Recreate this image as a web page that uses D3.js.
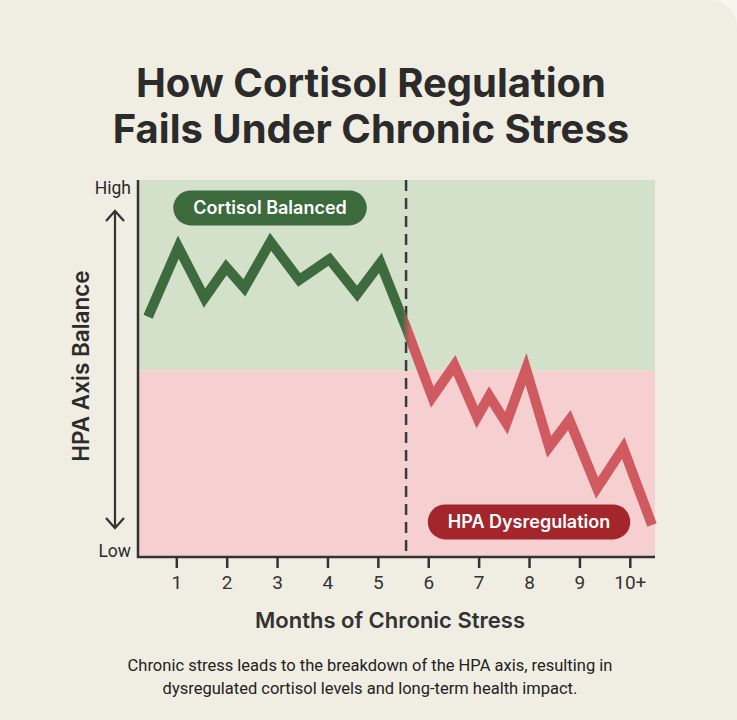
<!DOCTYPE html>
<html>
<head>
<meta charset="utf-8">
<script src="https://cdn.jsdelivr.net/npm/d3@7"></script>
<style>
  html, body { margin: 0; padding: 0; background: #f6f5ef; }
  svg { display: block; }
</style>
</head>
<body>
<div id="chart"></div>
<script>
// data
var months  = [0.44, 1.04, 1.56, 1.99, 2.35, 2.87, 3.44, 4.04, 4.59, 5.05, 5.56,
               6.08, 6.52, 6.97, 7.21, 7.55, 7.94, 8.40, 8.80, 9.35, 9.87, 10.44];
var balance = [63.7, 82.2, 68.7, 76.9, 71.4, 83.6, 73.5, 79.0, 69.8, 78.0, 60.9,
               42.4, 50.9, 37.1, 42.7, 35.5, 49.9, 29.2, 36.3, 18.3, 28.9, 8.5];
var tickValues = [1, 2, 3, 4, 5, 6, 7, 8, 9, 10];
var tickLabels = ["1", "2", "3", "4", "5", "6", "7", "8", "9", "10+"];
var zoneSplit = 49.5;     // green above, pink below
var onsetMonth = 5.56;    // dashed line where dysregulation starts
var titleLines = ["How Cortisol Regulation", "Fails Under Chronic Stress"];
var captionLines = ["Chronic stress leads to the breakdown of the HPA axis, resulting in",
                    "dysregulated cortisol levels and long-term health impact."];
var zoneLabels = [
  {text: "Cortisol Balanced", month: 2.86, value: 92.6, fill: "#3c6a3d"},
  {text: "HPA Dysregulation", month: 8.0, value: 9.3, fill: "#a2262b"}
];

var W = 737, H = 720;
var margin = {top: 180, right: 82, bottom: 163, left: 138};

var svg = d3.select("#chart").append("svg")
    .attr("width", W)
    .attr("height", H);

// card background
svg.append("rect")
    .attr("x", -40).attr("y", 0)
    .attr("width", W + 40).attr("height", H + 40)
    .attr("rx", 28)
    .attr("fill", "#f0ede3");

var x = d3.scaleLinear()
    .domain([0.24, 10.5])
    .range([margin.left, W - margin.right]);

var y = d3.scaleLinear()
    .domain([0, 100])
    .range([H - margin.bottom, margin.top]);

// title
svg.append("text")
    .attr("text-anchor", "middle")
    .attr("font-family", "Inter, sans-serif")
    .attr("font-weight", 700)
    .attr("font-size", 40)
    .attr("fill", "#2b2b2b")
  .selectAll("tspan")
  .data(titleLines)
  .enter().append("tspan")
    .attr("x", 371)
    .attr("y", function(d, i) { return 97 + i * 46; })
    .text(function(d) { return d; });

// zones
svg.append("rect")
    .attr("x", x(0.24)).attr("y", y(100))
    .attr("width", x(10.5) - x(0.24))
    .attr("height", y(zoneSplit) - y(100))
    .attr("fill", "#d3e1cb");
svg.append("rect")
    .attr("x", x(0.24)).attr("y", y(zoneSplit))
    .attr("width", x(10.5) - x(0.24))
    .attr("height", y(0) - y(zoneSplit))
    .attr("fill", "#f6cfd1");

// dashed onset line
svg.append("line")
    .attr("x1", x(onsetMonth)).attr("x2", x(onsetMonth))
    .attr("y1", y(100)).attr("y2", y(0))
    .attr("stroke", "#3a3a3a")
    .attr("stroke-width", 2.5)
    .attr("stroke-dasharray", "11,7");

// x axis
var xAxis = svg.append("g")
    .attr("transform", "translate(0," + y(0) + ")")
    .call(d3.axisBottom(x)
        .tickValues(tickValues)
        .tickFormat(function(d, i) { return tickLabels[i]; })
        .tickSize(11)
        .tickPadding(8));
xAxis.select(".domain").remove();
xAxis.selectAll(".tick line")
    .attr("stroke", "#333")
    .attr("stroke-width", 2.5);
xAxis.selectAll(".tick text")
    .attr("font-family", "Roboto, sans-serif")
    .attr("font-size", 19)
    .attr("fill", "#333");

// axis frame (left + bottom)
svg.append("path")
    .attr("d", "M" + x(0.24) + "," + y(100) + "V" + y(0) + "H" + x(10.5))
    .attr("fill", "none")
    .attr("stroke", "#333")
    .attr("stroke-width", 2.5);

// gradient for the line, green turning red at the onset
var grad = svg.append("defs").append("linearGradient")
    .attr("id", "lineGrad")
    .attr("gradientUnits", "userSpaceOnUse")
    .attr("x1", x(onsetMonth) - 4).attr("x2", x(onsetMonth) + 4)
    .attr("y1", 0).attr("y2", 0);
grad.append("stop").attr("offset", 0).attr("stop-color", "#3d6b3e");
grad.append("stop").attr("offset", 1).attr("stop-color", "#cf5a5f");

var line = d3.line()
    .x(function(d) { return x(d[0]); })
    .y(function(d) { return y(d[1]); });

svg.append("path")
    .datum(d3.zip(months, balance))
    .attr("d", line)
    .attr("fill", "none")
    .attr("stroke", "url(#lineGrad)")
    .attr("stroke-width", 10)
    .attr("stroke-linejoin", "miter")
    .attr("stroke-linecap", "butt");

// zone labels (pills)
zoneLabels.forEach(function(z) {
  var g = svg.append("g")
      .attr("transform", "translate(" + x(z.month) + "," + y(z.value) + ")");
  var pill = g.append("rect").attr("fill", z.fill);
  var t = g.append("text")
      .attr("text-anchor", "middle")
      .attr("dy", "0.36em")
      .attr("font-family", "Inter, sans-serif")
      .attr("font-weight", 600)
      .attr("font-size", 18)
      .attr("fill", "#fff")
      .text(z.text);
  var w = t.node().getComputedTextLength() + 40, h = 35;
  pill.attr("x", -w / 2).attr("y", -h / 2)
      .attr("width", w).attr("height", h)
      .attr("rx", h / 2);
});

// y axis: High / Low, double arrow and title
svg.append("text")
    .attr("x", 131).attr("y", 194)
    .attr("text-anchor", "end")
    .attr("font-family", "Roboto, sans-serif")
    .attr("font-size", 17.5)
    .attr("fill", "#2b2b2b")
    .text("High");
svg.append("text")
    .attr("x", 131).attr("y", 557)
    .attr("text-anchor", "end")
    .attr("font-family", "Roboto, sans-serif")
    .attr("font-size", 17.5)
    .attr("fill", "#2b2b2b")
    .text("Low");

var ax = 115, aTop = 211, aBot = 528;
svg.append("path")
    .attr("d", "M" + ax + "," + aTop + "V" + aBot +
               "M" + (ax - 9) + "," + (aTop + 10) + "L" + ax + "," + aTop + "L" + (ax + 9) + "," + (aTop + 10) +
               "M" + (ax - 9) + "," + (aBot - 10) + "L" + ax + "," + aBot + "L" + (ax + 9) + "," + (aBot - 10))
    .attr("fill", "none")
    .attr("stroke", "#333")
    .attr("stroke-width", 2.2);

svg.append("text")
    .attr("transform", "translate(89," + 366 + ") rotate(-90)")
    .attr("text-anchor", "middle")
    .attr("font-family", "Inter, sans-serif")
    .attr("font-weight", 600)
    .attr("font-size", 22.5)
    .attr("fill", "#2b2b2b")
    .text("HPA Axis Balance");

// x axis title
svg.append("text")
    .attr("x", 390).attr("y", 628)
    .attr("text-anchor", "middle")
    .attr("font-family", "Inter, sans-serif")
    .attr("font-weight", 600)
    .attr("font-size", 22)
    .attr("fill", "#333")
    .text("Months of Chronic Stress");

// caption
svg.append("text")
    .attr("text-anchor", "middle")
    .attr("font-family", "Roboto, sans-serif")
    .attr("font-size", 16.5)
    .attr("fill", "#222")
  .selectAll("tspan")
  .data(captionLines)
  .enter().append("tspan")
    .attr("x", 370)
    .attr("y", function(d, i) { return 671 + i * 23; })
    .text(function(d) { return d; });
</script>
</body>
</html>
